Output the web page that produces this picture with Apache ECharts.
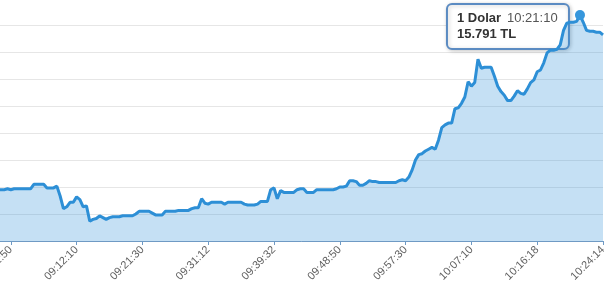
<!DOCTYPE html>
<html>
<head>
<meta charset="utf-8">
<script src="https://cdn.jsdelivr.net/npm/echarts@6/dist/echarts.min.js"></script>
<style>
html,body{margin:0;padding:0;background:#fff;}
#c{width:614px;height:282px;}
</style>
</head>
<body>
<div id="c"></div>
<script>
// Time categories (x axis)
const times = [
"08:53:30","08:53:58","08:54:27","08:54:54","08:55:22","08:55:50","08:56:20","08:56:46","08:57:14","08:57:42",
"08:58:11","08:58:38","08:59:06","08:59:34","09:00:02","09:00:30","09:00:59","09:01:26","09:01:54","09:02:22",
"09:02:50","09:03:19","09:03:46","09:04:14","09:04:42","09:05:10","09:05:38","09:06:08","09:06:34","09:07:02",
"09:07:30","09:07:58","09:08:27","09:08:54","09:09:22","09:09:50","09:10:18","09:10:46","09:11:15","09:11:42",
"09:12:10","09:12:38","09:13:06","09:13:33","09:14:02","09:14:30","09:14:58","09:15:26","09:15:54","09:16:23",
"09:16:50","09:17:18","09:17:46","09:18:16","09:18:42","09:19:10","09:19:38","09:20:06","09:20:34","09:21:02",
"09:21:30","09:21:59","09:22:29","09:22:58","09:23:26","09:23:55","09:24:25","09:24:54","09:25:23","09:25:51",
"09:26:21","09:26:50","09:27:19","09:27:49","09:28:17","09:28:46","09:29:15","09:29:45","09:30:14","09:30:43",
"09:31:12","09:31:37","09:32:02","09:32:28","09:32:52","09:33:17","09:33:42","09:34:07","09:34:32","09:34:58",
"09:35:22","09:35:47","09:36:12","09:36:37","09:37:02","09:37:28","09:37:52","09:38:17","09:38:42","09:39:07",
"09:39:32","09:40:00","09:40:28","09:40:55","09:41:23","09:41:51","09:42:19","09:42:47","09:43:15","09:43:43",
"09:44:11","09:44:38","09:45:06","09:45:34","09:46:02","09:46:30","09:46:58","09:47:26","09:47:54","09:48:22",
"09:48:50","09:49:16","09:49:43","09:50:08","09:50:34","09:51:00","09:51:26","09:51:53","09:52:18","09:52:44",
"09:53:10","09:53:36","09:54:02","09:54:29","09:54:54","09:55:20","09:55:46","09:56:12","09:56:38","09:57:04",
"09:57:30","09:57:59","09:58:28","09:58:58","09:59:26","09:59:55","10:00:24","10:00:53","10:01:22","10:01:52",
"10:02:20","10:02:49","10:03:18","10:03:47","10:04:16","10:04:46","10:05:14","10:05:43","10:06:12","10:06:41",
"10:07:10","10:07:37","10:08:05","10:08:32","10:09:00","10:09:27","10:09:55","10:10:22","10:10:50","10:11:17",
"10:11:45","10:12:12","10:12:40","10:13:07","10:13:35","10:14:02","10:14:30","10:14:57","10:15:24","10:15:51",
"10:16:18","10:16:40","10:17:03","10:17:25","10:17:48","10:18:10","10:18:33","10:18:55","10:19:18","10:19:40",
"10:20:03","10:20:25","10:20:48","10:21:10","10:21:36","10:22:03","10:22:29","10:22:55","10:23:22","10:23:48",
"10:24:14"
];

// USD/TRY rate (TL)
const dolar = [
15.594,15.594,15.597,15.597,15.597,15.597,15.596,15.596,15.597,15.597,
15.597,15.597,15.597,15.597,15.596,15.597,15.597,15.597,15.597,15.598,
15.597,15.598,15.598,15.598,15.598,15.598,15.598,15.603,15.603,15.603,
15.603,15.599,15.599,15.599,15.601,15.590,15.576,15.578,15.583,15.583,
15.589,15.586,15.578,15.579,15.562,15.564,15.565,15.568,15.566,15.564,
15.566,15.567,15.567,15.567,15.568,15.568,15.568,15.568,15.570,15.573,
15.573,15.573,15.573,15.571,15.569,15.569,15.569,15.573,15.573,15.573,
15.573,15.574,15.574,15.574,15.574,15.576,15.577,15.577,15.587,15.582,
15.581,15.583,15.583,15.583,15.583,15.581,15.583,15.583,15.583,15.583,
15.583,15.581,15.580,15.580,15.580,15.581,15.584,15.584,15.584,15.597,
15.599,15.587,15.596,15.594,15.594,15.594,15.594,15.597,15.598,15.598,
15.594,15.594,15.594,15.597,15.597,15.597,15.597,15.597,15.597,15.598,
15.600,15.600,15.601,15.607,15.607,15.606,15.602,15.602,15.604,15.607,
15.606,15.606,15.605,15.605,15.605,15.605,15.605,15.605,15.607,15.608,
15.607,15.611,15.619,15.630,15.636,15.637,15.640,15.642,15.644,15.642,
15.652,15.666,15.669,15.671,15.671,15.687,15.688,15.693,15.700,15.717,
15.712,15.716,15.742,15.732,15.733,15.733,15.733,15.723,15.712,15.706,
15.702,15.696,15.696,15.701,15.707,15.704,15.703,15.709,15.716,15.719,
15.728,15.730,15.738,15.749,15.752,15.752,15.753,15.758,15.774,15.782,
15.783,15.783,15.784,15.791,15.783,15.774,15.773,15.773,15.772,15.772,
15.769
];

const seriesName = "1 Dolar";
const unit = "TL";
const tipTime = "10:21:10";
const TIP = times.indexOf(tipTime);

const chart = echarts.init(document.getElementById('c'), null, {renderer: 'canvas'});
const FONT = "'Liberation Sans', Arial, sans-serif";
const option = {
  animation: false,
  grid: {left: -55, right: 11, top: -2, bottom: 41, outerBoundsMode: 'none', containLabel: false},
  xAxis: {
    type: 'category',
    data: times,
    boundaryGap: false,
    axisLine: {lineStyle: {color: '#6f9ac4', width: 1}},
    axisTick: {interval: 19, length: 4, lineStyle: {color: '#6f9ac4'}},
    axisLabel: {interval: 19, rotate: 45, margin: 7, color: '#606060', fontSize: 11, fontFamily: FONT},
    splitLine: {show: false}
  },
  yAxis: {
    type: 'value',
    min: 15.54, max: 15.81, interval: 0.03,
    axisLine: {show: false}, axisTick: {show: false}, axisLabel: {show: false},
    splitLine: {lineStyle: {color: '#e6e6e6', width: 1}}
  },
  series: [{
    name: seriesName,
    type: 'line',
    data: dolar,
    showSymbol: false,
    lineStyle: {color: '#2d8fd6', width: 3},
    itemStyle: {color: '#2d8fd6'},
    areaStyle: {color: 'rgba(47,144,216,0.28)', opacity: 1},
    markPoint: {
      symbol: 'circle', symbolSize: 10,
      itemStyle: {color: '#3797dc'},
      label: {show: false},
      data: [{coord: [TIP, dolar[TIP]]}]
    }
  }]
};
chart.setOption(option);

const pt = chart.convertToPixel({gridIndex: 0}, [TIP, dolar[TIP]]);
const boxW = 122, boxH = 45;
chart.setOption({
  graphic: [{
    type: 'group',
    x: pt[0] - 133, y: pt[1] - 11,
    children: [{
      type: 'rect',
      shape: {x: 0, y: 0, width: boxW, height: boxH, r: 5},
      style: {fill: '#ffffff', stroke: '#5b8bc2', lineWidth: 2, shadowBlur: 4, shadowOffsetX: 1, shadowOffsetY: 1, shadowColor: 'rgba(0,0,0,0.2)'}
    }, {
      type: 'text',
      x: 10, y: 6,
      style: {
        text: '{b|' + seriesName + '}{t|' + times[TIP] + '}\n{b|' + dolar[TIP].toFixed(3) + ' ' + unit + '}',
        rich: {
          b: {fontFamily: FONT, fontSize: 13, fontWeight: 'bold', fill: '#333', lineHeight: 16},
          t: {fontFamily: FONT, fontSize: 13, fill: '#555', lineHeight: 16, padding: [0, 0, 0, 6]}
        },
        verticalAlign: 'top'
      }
    }]
  }]
});
</script>
</body>
</html>
